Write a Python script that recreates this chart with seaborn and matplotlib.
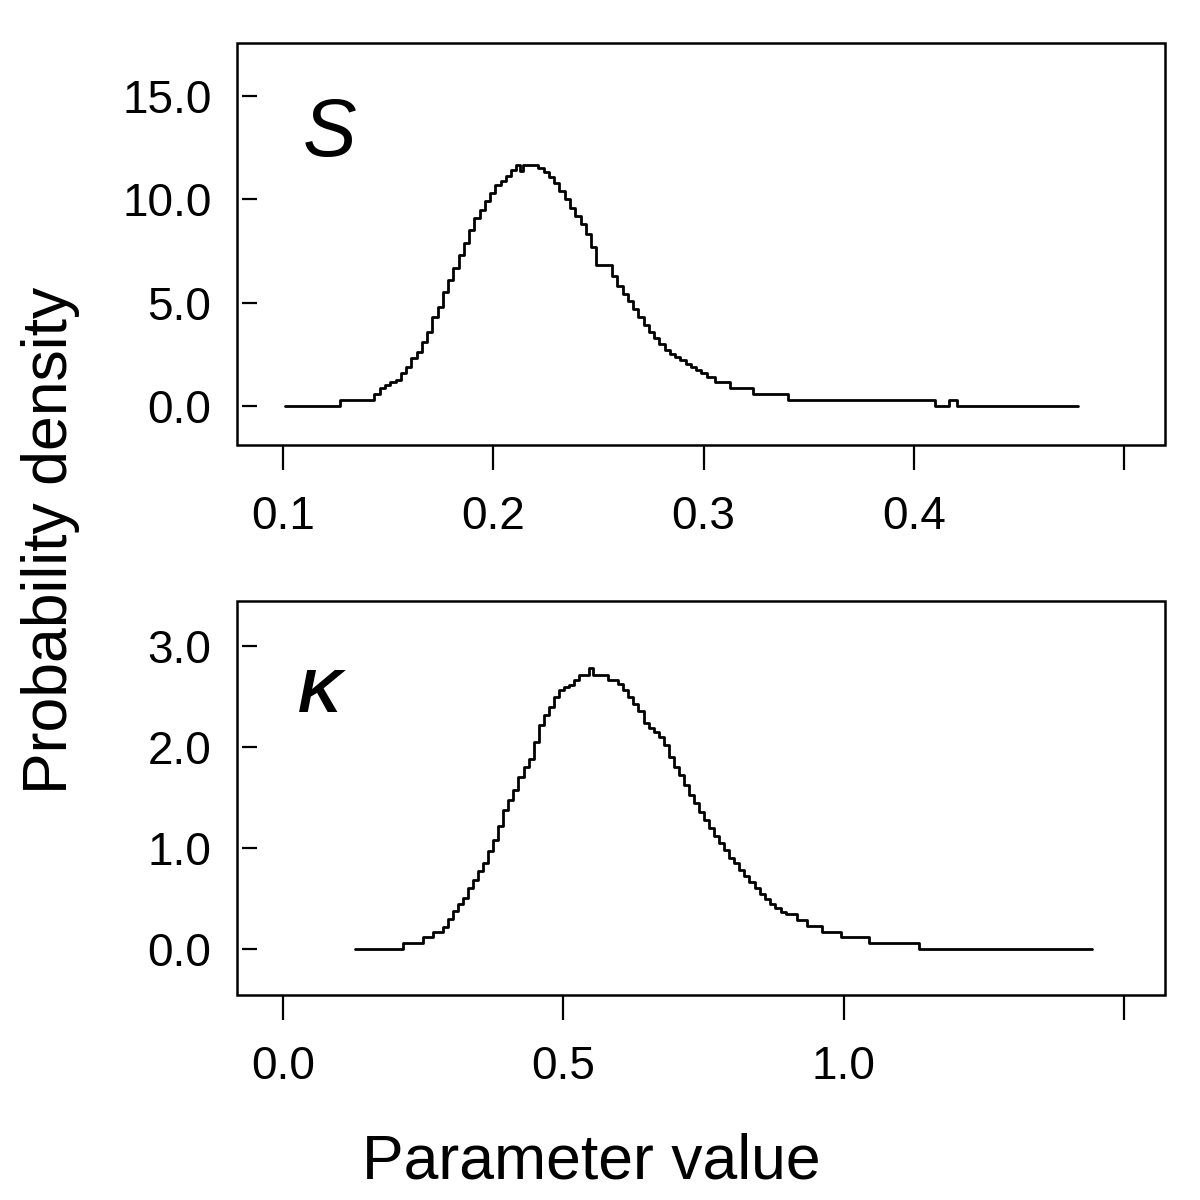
import matplotlib
matplotlib.use("Agg")
import matplotlib.pyplot as plt
import matplotlib.patches as mpatches
import seaborn as sns
import pandas as pd

# S parameter: left edge of each step and its density
s_edges = [0.101, 0.127, 0.1435, 0.146, 0.1485, 0.151, 0.1535, 0.156, 0.1585, 0.161,
           0.1635, 0.166, 0.1685, 0.171, 0.1735, 0.176, 0.1785, 0.181, 0.1835, 0.186,
           0.1885, 0.191, 0.1935, 0.196, 0.1985, 0.201, 0.2035, 0.206, 0.2085, 0.211,
           0.2125, 0.214, 0.2165, 0.219, 0.2215, 0.224, 0.2265, 0.229, 0.2315, 0.234,
           0.2365, 0.239, 0.2415, 0.244, 0.2465, 0.249, 0.2515, 0.254, 0.2565, 0.259,
           0.2615, 0.264, 0.2665, 0.269, 0.2715, 0.274, 0.2765, 0.279, 0.2815, 0.284,
           0.2865, 0.289, 0.2915, 0.294, 0.2965, 0.299, 0.3015, 0.3055, 0.3125, 0.3235,
           0.340, 0.410, 0.417, 0.4205]
s_dens = [0.0, 0.29, 0.58, 0.87, 1.0, 1.16, 1.26, 1.6, 1.9, 2.3,
          2.6, 3.1, 3.6, 4.3, 4.8, 5.5, 6.1, 6.7, 7.3, 7.9,
          8.5, 9.1, 9.5, 9.9, 10.3, 10.7, 10.9, 11.15, 11.4, 11.65,
          11.35, 11.65, 11.65, 11.65, 11.5, 11.3, 11.1, 10.8, 10.4, 10.0,
          9.6, 9.2, 8.8, 8.3, 7.7, 6.8, 6.8, 6.8, 6.3, 5.8,
          5.4, 5.1, 4.7, 4.3, 3.9, 3.6, 3.3, 3.0, 2.7, 2.5,
          2.35, 2.2, 2.05, 1.9, 1.75, 1.6, 1.4, 1.16, 0.87, 0.58,
          0.29, 0.0, 0.29, 0.0]
s_end = 0.478

# K parameter
k_edges = [0.128, 0.214, 0.250, 0.267, 0.285, 0.294, 0.303, 0.312, 0.321, 0.330,
           0.339, 0.348, 0.357, 0.366, 0.375, 0.384, 0.393, 0.402, 0.411, 0.420,
           0.429, 0.438, 0.447, 0.456, 0.465, 0.474, 0.483, 0.492, 0.501, 0.510,
           0.519, 0.528, 0.537, 0.546, 0.553, 0.562, 0.571, 0.580, 0.589, 0.598,
           0.607, 0.616, 0.625, 0.634, 0.643, 0.652, 0.661, 0.670, 0.679, 0.688,
           0.697, 0.706, 0.715, 0.724, 0.733, 0.742, 0.751, 0.760, 0.769, 0.778,
           0.787, 0.796, 0.805, 0.814, 0.823, 0.832, 0.841, 0.850, 0.859, 0.868,
           0.877, 0.888, 0.898, 0.916, 0.934, 0.961, 0.996, 1.046, 1.135]
k_dens = [0.0, 0.06, 0.12, 0.17, 0.22, 0.30, 0.38, 0.45, 0.51, 0.60,
          0.68, 0.77, 0.85, 0.97, 1.08, 1.22, 1.38, 1.48, 1.57, 1.70,
          1.80, 1.88, 2.05, 2.22, 2.32, 2.40, 2.50, 2.56, 2.59, 2.61,
          2.66, 2.71, 2.71, 2.78, 2.71, 2.71, 2.71, 2.66, 2.66, 2.62,
          2.56, 2.50, 2.43, 2.36, 2.24, 2.19, 2.15, 2.10, 2.02, 1.90,
          1.80, 1.72, 1.62, 1.53, 1.45, 1.36, 1.28, 1.20, 1.12, 1.05,
          0.98, 0.90, 0.85, 0.78, 0.72, 0.66, 0.60, 0.55, 0.50, 0.45,
          0.41, 0.37, 0.35, 0.29, 0.23, 0.17, 0.12, 0.06, 0.0]
k_end = 1.442

s_xticks = [0.1, 0.2, 0.3, 0.4, 0.5]
s_xlabels = ["0.1", "0.2", "0.3", "0.4", ""]
s_yticks = [0.0, 5.0, 10.0, 15.0]
k_xticks = [0.0, 0.5, 1.0, 1.5]
k_xlabels = ["0.0", "0.5", "1.0", ""]
k_yticks = [0.0, 1.0, 2.0, 3.0]

sns.set_style("white")
plt.rcParams["font.family"] = ["Liberation Sans", "DejaVu Sans"]
plt.rcParams["text.color"] = "black"
plt.rcParams["xtick.color"] = "black"
plt.rcParams["ytick.color"] = "black"
plt.rcParams["xtick.labelcolor"] = "black"
plt.rcParams["ytick.labelcolor"] = "black"

fig = plt.figure(figsize=(12, 12), dpi=100)
ax1 = fig.add_axes([0.1975, 0.6292, 0.7733, 0.335])
ax2 = fig.add_axes([0.1975, 0.1708, 0.7733, 0.3283])


def step_panel(ax, edges, dens, end, xlim, ylim, xticks, xlabels, yticks):
    df = pd.DataFrame({"x": edges + [end], "y": dens + [dens[-1]]})
    sns.lineplot(data=df, x="x", y="y", ax=ax, drawstyle="steps-post",
                 estimator=None, sort=False, color="black", lw=2.0)
    ax.set_xlim(*xlim)
    ax.set_ylim(*ylim)
    ax.set_xticks(xticks)
    ax.set_xticklabels(xlabels)
    ax.set_yticks(yticks)
    ax.set_yticklabels(["%.1f" % v for v in yticks])
    ax.set_xlabel("")
    ax.set_ylabel("")
    for sp in ax.spines.values():
        sp.set_visible(False)
    # y ticks sit a little inside the frame
    ax.spines["left"].set_position(("outward", -3.6))
    ax.tick_params(axis="x", direction="out", length=18, width=1.6,
                   pad=18, labelsize=33, color="black", labelcolor="black", bottom=True)
    ax.tick_params(axis="y", direction="in", length=10.8, width=1.6,
                   pad=22, labelsize=33, color="black", labelcolor="black", left=True)
    ax.add_patch(mpatches.Rectangle((0, 0), 1, 1, transform=ax.transAxes,
                                    fill=False, lw=1.8, ec="black", clip_on=False))


step_panel(ax1, s_edges, s_dens, s_end, (0.0781, 0.5195), (-1.89, 17.57),
           s_xticks, s_xlabels, s_yticks)
step_panel(ax2, k_edges, k_dens, k_end, (-0.082, 1.573), (-0.455, 3.445),
           k_xticks, k_xlabels, k_yticks)

ax1.text(0.071, 0.72, "S", transform=ax1.transAxes, fontsize=58,
         style="italic", ha="left", va="baseline", color="black")
ax2.text(0.066, 0.718, "K", transform=ax2.transAxes, fontsize=44,
         style="italic", fontweight="bold", ha="left", va="baseline", color="black")

fig.text(0.042, 0.55, "Probability density", rotation=90, fontsize=45,
         ha="center", va="center", color="black")
fig.text(0.493, 0.032, "Parameter value", fontsize=45, ha="center", va="center",
         color="black")

fig.savefig("out.png", dpi=100)
